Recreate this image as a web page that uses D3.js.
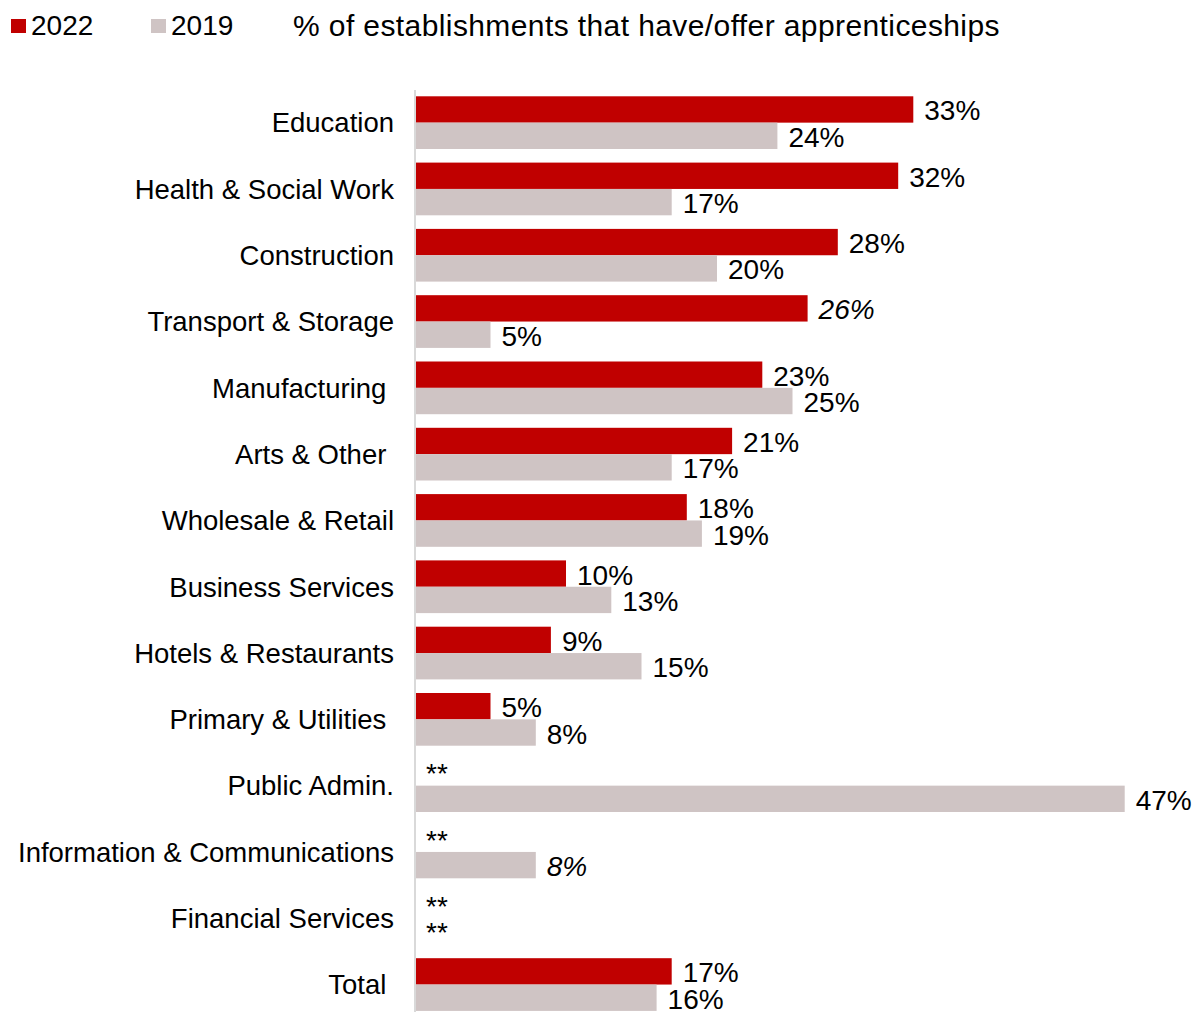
<!DOCTYPE html>
<html>
<head>
<meta charset="utf-8">
<script src="https://cdn.jsdelivr.net/npm/d3@7"></script>
<style>
  html, body { margin: 0; padding: 0; background: #fff; }
  svg { display: block; font-family: Arial, "Liberation Sans", sans-serif; }
  text { white-space: pre; }
</style>
</head>
<body>
<svg id="chart" width="1195" height="1012"></svg>
<script>
// Sectors, top to bottom (trailing spaces keep the original label spacing)
const categories = [
  "Education", "Health & Social Work", "Construction", "Transport & Storage",
  "Manufacturing ", "Arts & Other ", "Wholesale & Retail", "Business Services",
  "Hotels & Restaurants", "Primary & Utilities ", "Public Admin.",
  "Information & Communications", "Financial Services", "Total "
];
// % of establishments that have/offer apprenticeships; null = suppressed (**)
const values2022 = [33, 32, 28, 26, 23, 21, 18, 10, 9, 5, null, null, null, 17];
const values2019 = [24, 17, 20, 5, 25, 17, 19, 13, 15, 8, 47, 8, null, 16];
// Low-base figures shown in italics
const italic2022 = [false, false, false, true, false, false, false, false, false, false, false, false, false, false];
const italic2019 = [false, false, false, false, false, false, false, false, false, false, false, true, false, false];
const seriesNames = ["2022", "2019"];
const titleText = "% of establishments that have/offer apprenticeships";

const colors = { "2022": "#C00000", "2019": "#CFC4C4" };
const fontSize = 28;
const catFontSize = 27.5;

const svg = d3.select("#chart");

const x = d3.scaleLinear().domain([0, 50]).range([415, 1170]);
const y = d3.scaleBand()
  .domain(categories)
  .range([89.5, 89.5 + categories.length * 66.3])
  .paddingInner(0.205)
  .paddingOuter(0.1025);
const ySub = d3.scaleBand().domain(seriesNames).range([0, y.bandwidth()]);

const rows = categories.map((c, i) => ({
  cat: c,
  bars: [
    { s: "2022", v: values2022[i], it: italic2022[i] },
    { s: "2019", v: values2019[i], it: italic2019[i] }
  ]
}));

const groups = svg.append("g").selectAll("g")
  .data(rows).join("g")
  .attr("transform", d => `translate(0,${y(d.cat)})`);

groups.selectAll("rect")
  .data(d => d.bars.filter(b => b.v != null))
  .join("rect")
  .attr("x", x(0))
  .attr("y", b => ySub(b.s))
  .attr("width", b => x(b.v) - x(0))
  .attr("height", ySub.bandwidth())
  .attr("fill", b => colors[b.s]);

groups.selectAll("text.val")
  .data(d => d.bars)
  .join("text")
  .attr("class", "val")
  .attr("x", b => x(b.v == null ? 0 : b.v) + 11)
  .attr("y", b => ySub(b.s) + ySub.bandwidth() / 2 + fontSize * 0.358 + 1)
  .attr("font-size", fontSize)
  .attr("font-style", b => b.it ? "italic" : "normal")
  .attr("fill", "#000")
  .text(b => b.v == null ? "**" : b.v + "%");

// Category axis line
svg.append("line")
  .attr("x1", 415).attr("x2", 415)
  .attr("y1", 90).attr("y2", 1012)
  .attr("stroke", "#D9D9D9").attr("stroke-width", 2);

// Category labels
svg.append("g").selectAll("text")
  .data(categories).join("text")
  .attr("x", 394)
  .attr("y", c => y(c) + y.bandwidth() / 2 + catFontSize * 0.358)
  .attr("text-anchor", "end")
  .attr("font-size", catFontSize)
  .attr("fill", "#000")
  .text(c => c);

// Legend and title
const legend = svg.append("g");
const legendX = [11, 151];
seriesNames.forEach((s, i) => {
  legend.append("rect")
    .attr("x", legendX[i]).attr("y", 19)
    .attr("width", 15).attr("height", 14)
    .attr("fill", colors[s]);
  legend.append("text")
    .attr("x", legendX[i] + 20).attr("y", 35)
    .attr("font-size", fontSize).attr("fill", "#000")
    .text(s);
});
svg.append("text")
  .attr("x", 293).attr("y", 36)
  .attr("font-size", 30)
  .attr("letter-spacing", 0.4)
  .attr("fill", "#000")
  .text(titleText);
</script>
</body>
</html>
